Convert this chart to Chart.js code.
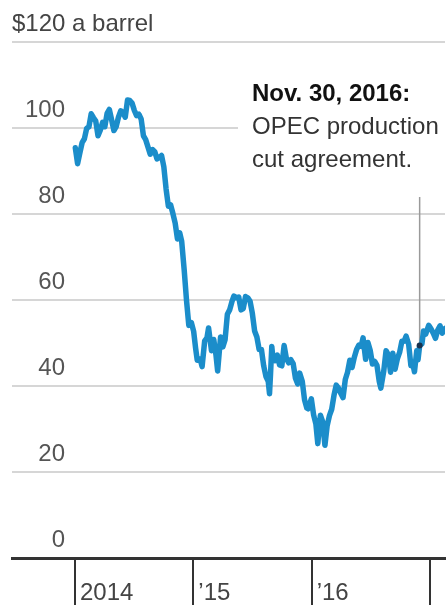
<!DOCTYPE html>
<html>
<head>
<meta charset="utf-8">
<style>
  html, body { margin: 0; padding: 0; background: #fff; }
  canvas { display: block; }
</style>
</head>
<body>
<canvas id="oilChart" width="448" height="610"></canvas>
<script src="https://cdn.jsdelivr.net/npm/chart.js@4/dist/chart.umd.min.js"></script>
<script>
// WTI crude, weekly-ish closes, $ a barrel
const dates = [
  "2014-01-02", "2014-01-09", "2014-01-16", "2014-01-23", "2014-01-30",
  "2014-02-06", "2014-02-13", "2014-02-20", "2014-02-27",
  "2014-03-06", "2014-03-13", "2014-03-20", "2014-03-27",
  "2014-04-03", "2014-04-10", "2014-04-17", "2014-04-24",
  "2014-05-01", "2014-05-08", "2014-05-15", "2014-05-22", "2014-05-29",
  "2014-06-05", "2014-06-12", "2014-06-19", "2014-06-26",
  "2014-07-03", "2014-07-10", "2014-07-17", "2014-07-24", "2014-07-31",
  "2014-08-07", "2014-08-14", "2014-08-21", "2014-08-28",
  "2014-09-04", "2014-09-11", "2014-09-18", "2014-09-25",
  "2014-10-02", "2014-10-09", "2014-10-16", "2014-10-23", "2014-10-30",
  "2014-11-06", "2014-11-13", "2014-11-20", "2014-11-26",
  "2014-12-04", "2014-12-11", "2014-12-18", "2014-12-26",
  "2015-01-02", "2015-01-08", "2015-01-13", "2015-01-22", "2015-01-28",
  "2015-02-05", "2015-02-12", "2015-02-17", "2015-02-26",
  "2015-03-05", "2015-03-12", "2015-03-17", "2015-03-26",
  "2015-04-02", "2015-04-09", "2015-04-16", "2015-04-23", "2015-04-30",
  "2015-05-06", "2015-05-14", "2015-05-21", "2015-05-28",
  "2015-06-04", "2015-06-11", "2015-06-18", "2015-06-25",
  "2015-07-02", "2015-07-09", "2015-07-16", "2015-07-23", "2015-07-30",
  "2015-08-06", "2015-08-13", "2015-08-20", "2015-08-24", "2015-08-27", "2015-08-31",
  "2015-09-04", "2015-09-10", "2015-09-17", "2015-09-24",
  "2015-10-01", "2015-10-08", "2015-10-15", "2015-10-22", "2015-10-29",
  "2015-11-05", "2015-11-12", "2015-11-19", "2015-11-25",
  "2015-12-03", "2015-12-10", "2015-12-17", "2015-12-21", "2015-12-31",
  "2016-01-07", "2016-01-14", "2016-01-20", "2016-01-28",
  "2016-02-04", "2016-02-11", "2016-02-18", "2016-02-25",
  "2016-03-03", "2016-03-10", "2016-03-17", "2016-03-24", "2016-03-31",
  "2016-04-07", "2016-04-14", "2016-04-21", "2016-04-28",
  "2016-05-05", "2016-05-12", "2016-05-19", "2016-05-26",
  "2016-06-02", "2016-06-08", "2016-06-16", "2016-06-23", "2016-06-30",
  "2016-07-07", "2016-07-14", "2016-07-21", "2016-07-28",
  "2016-08-02", "2016-08-11", "2016-08-18", "2016-08-25",
  "2016-09-01", "2016-09-08", "2016-09-15", "2016-09-22", "2016-09-29",
  "2016-10-06", "2016-10-13", "2016-10-19", "2016-10-27",
  "2016-11-03", "2016-11-10", "2016-11-14", "2016-11-21", "2016-11-25", "2016-11-30",
  "2016-12-07", "2016-12-12", "2016-12-19", "2016-12-28",
  "2017-01-04", "2017-01-11", "2017-01-18", "2017-01-25",
  "2017-02-01", "2017-02-08", "2017-02-15", "2017-02-17",
]
const prices = [
  95.4, 91.7, 94.2, 96.6, 97.5,
  99.9, 100.3, 103.3, 102.4,
  101.6, 98.2, 99.5, 101.3,
  100.3, 103.4, 104.3, 101.9,
  99.4, 100.3, 102.5, 104.0, 103.6,
  102.5, 106.5, 106.4, 105.8,
  104.1, 102.9, 103.2, 102.1, 98.2,
  97.3, 95.6, 93.9, 95.0,
  94.5, 92.8, 93.1, 93.6,
  91.0, 85.8, 81.8, 82.1, 80.1,
  77.9, 74.2, 75.6, 73.7,
  66.8, 59.9, 54.1, 54.7,
  52.7, 48.8, 46.0, 46.3, 44.5,
  50.5, 51.2, 53.5, 48.2,
  50.8, 47.1, 43.5, 51.4,
  49.1, 50.8, 56.7, 57.7, 59.6,
  60.9, 60.5, 60.7, 57.7,
  58.0, 60.8, 60.5, 59.7,
  56.9, 52.8, 51.4, 48.5, 48.5,
  44.7, 42.2, 41.1, 38.2, 42.6, 49.2,
  46.1, 45.9, 47.2, 44.9,
  44.7, 49.4, 46.4, 45.4, 46.1,
  45.2, 41.8, 40.5, 43.0,
  41.1, 36.8, 34.9, 34.7, 37.0,
  33.3, 31.2, 26.6, 33.2,
  31.7, 26.2, 30.8, 33.1,
  34.6, 37.8, 40.2, 39.5, 38.3,
  37.3, 41.5, 43.2, 46.0,
  44.3, 46.7, 48.5, 49.5,
  49.2, 51.2, 46.2, 50.1, 48.3,
  45.1, 45.7, 44.8, 41.1,
  39.5, 43.5, 48.2, 47.3,
  43.2, 47.6, 43.9, 46.3, 47.8,
  50.4, 50.4, 51.6, 49.7,
  44.7, 44.7, 43.3, 48.2, 46.1, 49.4,
  49.8, 52.8, 52.1, 54.1,
  53.3, 52.3, 51.1, 53.0,
  54.0, 52.3, 53.1, 53.4,
]

const yTicks = [0, 20, 40, 60, 80, 100, 120]
const unitLabel = "$120 a barrel"
const xTickYears = [2014, 2015, 2016, 2017]
const xTickLabels = ["2014", "’15", "’16", ""]
const noteDate = "2016-11-30"
const noteLines = ["Nov. 30, 2016:", "OPEC production", "cut agreement."]

const FONT = "'Liberation Sans', Arial, sans-serif"

// date string -> fractional year, so the x axis can stay linear
const toYear = s => {
  const [y, m, d] = s.split("-").map(Number)
  const start = Date.UTC(y, 0, 1)
  const end = Date.UTC(y + 1, 0, 1)
  return y + (Date.UTC(y, m - 1, d) - start) / (end - start)
}

const points = dates.map((d, i) => ({ x: toYear(d), y: prices[i] }))
const notePoint = points[dates.indexOf(noteDate)]

const noteLayer = {
  id: "noteLayer",
  beforeDatasetsDraw(chart) {
    const { ctx, scales: { x, y } } = chart
    const px = x.getPixelForValue(notePoint.x)
    const py = y.getPixelForValue(notePoint.y)
    ctx.save()

    // unit label sits above the top gridline
    ctx.font = "24px " + FONT
    ctx.fillStyle = "#444"
    ctx.textAlign = "left"
    ctx.textBaseline = "middle"
    ctx.fillText(unitLabel, 12, y.getPixelForValue(120) - 18)

    // white block behind the note so the gridline doesn't run through it
    ctx.fillStyle = "#fff"
    ctx.fillRect(238, 72, 210, 112)

    // leader from the note down to the price on that day
    ctx.strokeStyle = "#9a9a9a"
    ctx.lineWidth = 1.5
    ctx.beginPath()
    ctx.moveTo(px, 197)
    ctx.lineTo(px, py)
    ctx.stroke()

    ctx.textAlign = "left"
    ctx.textBaseline = "middle"
    noteLines.forEach((line, i) => {
      ctx.font = (i === 0 ? "bold 24px " : "24px ") + FONT
      ctx.fillStyle = i === 0 ? "#111" : "#333"
      ctx.fillText(line, 252, 94 + i * 33)
    })
    ctx.restore()
  },
  afterDatasetsDraw(chart) {
    const { ctx, scales: { x, y } } = chart
    ctx.save()
    ctx.fillStyle = "#18324e"
    ctx.beginPath()
    ctx.arc(x.getPixelForValue(notePoint.x), y.getPixelForValue(notePoint.y), 3, 0, Math.PI * 2)
    ctx.fill()
    ctx.restore()
  },
}

new Chart("oilChart", {
  type: "line",
  data: {
    datasets: [
      {
        label: "WTI crude",
        data: points,
        borderColor: "#1b8dca",
        borderWidth: 5.5,
        borderJoinStyle: "round",
        borderCapStyle: "round",
        pointRadius: 0,
        tension: 0,
        fill: false,
      },
    ],
  },
  options: {
    responsive: false,
    animation: false,
    layout: { padding: { left: 12, right: 3, top: 42, bottom: 0 } },
    plugins: { legend: { display: false }, tooltip: { enabled: false } },
    scales: {
      x: {
        type: "linear",
        min: 2013.4676,
        max: 2017.1268,
        afterBuildTicks: scale => {
          scale.ticks = xTickYears.map(v => ({ value: v }))
        },
        afterFit: scale => {
          scale.height = 52
        },
        grid: {
          drawOnChartArea: false,
          drawTicks: true,
          tickLength: 47,
          color: "#333",
          lineWidth: 2,
        },
        border: { display: true, color: "#333", width: 3 },
        ticks: {
          autoSkip: false,
          maxRotation: 0,
          align: "start",
          labelOffset: 5,
          padding: -26,
          color: "#444",
          font: { family: FONT, size: 24 },
          callback: v => xTickLabels[xTickYears.indexOf(v)] ?? "",
        },
      },
      y: {
        min: 0,
        max: 120,
        afterBuildTicks: scale => {
          scale.ticks = yTicks.map(v => ({ value: v }))
        },
        afterFit: scale => {
          scale.width = 0
        },
        grid: {
          drawTicks: false,
          color: ctx => (ctx.tick && ctx.tick.value === 0 ? "rgba(0,0,0,0)" : "#d6d6d6"),
          lineWidth: 2,
        },
        border: { display: false },
        ticks: {
          mirror: true,
          crossAlign: "far",
          padding: 13,
          labelOffset: -18,
          color: "#555",
          font: { family: FONT, size: 24 },
          callback: v => (v === 120 ? "" : String(v)),
        },
      },
    },
  },
  plugins: [noteLayer],
})
</script>
</body>
</html>
